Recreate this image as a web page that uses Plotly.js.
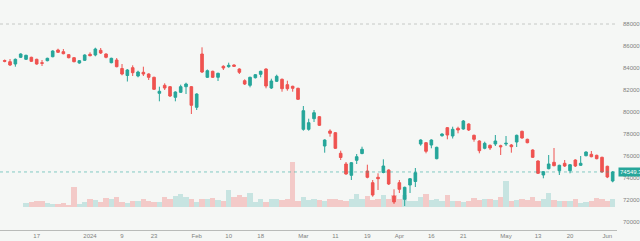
<!DOCTYPE html>
<html>
<head>
<meta charset="utf-8">
<script src="https://cdn.plot.ly/plotly-3.0.1.min.js"></script>
<style>
  html, body { margin: 0; padding: 0; background: #f5f7f5; }
  #chart { width: 640px; height: 241px; }
</style>
</head>
<body>
<div id="chart"></div>
<script>
// Daily session prices (one entry per trading session)
const open = [
  84682, 84573, 84364, 84973, 84791, 84973, 84791, 84482, 84664, 85027,
  85636, 85482, 85209, 84936, 84455, 84700, 85245, 85182, 85609, 85273,
  84482, 84727, 83955, 83318, 84027, 83273, 83609, 83455, 83155, 81700,
  82427, 82300, 81336, 81791, 82300, 82300, 80427, 85273, 83155, 83700,
  83155, 84155, 84118, 84273, 83909, 82845, 82427, 83118, 83427, 83909,
  82182, 82791, 82973, 82482, 82336, 82155, 78427, 78427, 79391, 79573,
  76909, 78273, 78118, 76245, 75273, 74245, 75609, 76227, 74636, 73573,
  74064, 74500, 74727, 72364, 73573, 72064, 73364, 73682, 77091, 77209,
  77000, 75755, 77845, 78573, 77818, 78518, 78455, 78909, 77882, 77364,
  76700, 76973, 77091, 76936, 77091, 77000, 77273, 78245, 77518, 76545,
  75545, 74273, 74845, 75427, 74664, 75336, 74664, 75636, 75155, 76027,
  76155, 76064, 75882, 75064, 73727
];
const high = [
  84773, 84818, 84864, 85336, 85209, 85027, 84845, 84727, 84936, 85609,
  85755, 85727, 85273, 85000, 84727, 85245, 85427, 85845, 85818, 85336,
  84936, 84909, 84364, 83909, 84245, 83755, 84118, 83518, 83209, 82300,
  82609, 82364, 81882, 82482, 82664, 82364, 81700, 85882, 83864, 83755,
  83573, 84245, 84482, 84336, 83973, 82973, 83209, 83455, 83755, 83973,
  83027, 83391, 83045, 82845, 82391, 82209, 80545, 79391, 80182, 79636,
  77518, 78427, 78182, 76482, 75455, 75455, 76182, 76845, 75209, 73818,
  74427, 75700, 74791, 72973, 73818, 73209, 74000, 74909, 77518, 77273,
  77518, 76845, 78064, 78636, 78664, 78664, 79273, 78973, 77945, 77427,
  77300, 77045, 77909, 77027, 77818, 77091, 77945, 78300, 77573, 76609,
  75609, 74636, 76091, 76727, 75209, 75636, 75273, 75700, 76000, 76427,
  76455, 76118, 75936, 75118, 74636
];
const low = [
  84518, 84182, 84118, 84909, 84727, 84545, 84300, 84182, 84609, 84973,
  85364, 85245, 84882, 84518, 84391, 84636, 85064, 85064, 85273, 84882,
  84427, 84064, 83336, 82773, 83273, 83155, 83273, 82909, 82000, 80973,
  82000, 81364, 80973, 81727, 81636, 79818, 80182, 83545, 83091, 83091,
  82818, 83818, 84027, 84091, 83455, 82455, 82245, 83045, 83155, 82155,
  82091, 82727, 81845, 81936, 81845, 81091, 78300, 78300, 79091, 78727,
  76300, 77755, 76636, 75636, 74300, 73818, 75273, 76155, 73973, 72300,
  72909, 74427, 73364, 71636, 72636, 71455, 72636, 73182, 76936, 76245,
  76700, 75700, 77755, 77518, 77591, 78064, 78391, 78273, 77300, 76245,
  76609, 76545, 76909, 76091, 76909, 76300, 76818, 77573, 77155, 75818,
  74364, 73973, 74791, 75064, 74273, 75000, 74427, 75000, 75091, 75973,
  75882, 75700, 74482, 73991, 73609
];
const close = [
  84609, 84273, 84791, 85273, 85155, 84609, 84364, 84427, 84882, 85545,
  85427, 85300, 84936, 84573, 84664, 85182, 85118, 85727, 85364, 84973,
  84882, 84118, 83455, 83818, 83573, 83636, 83455, 83155, 82064, 81882,
  82182, 81455, 81818, 82300, 82545, 80609, 81636, 83636, 83755, 83155,
  83518, 84000, 84245, 84155, 83609, 82545, 83155, 83391, 83700, 82364,
  82818, 83245, 82118, 82118, 82155, 81155, 80118, 79027, 79936, 78791,
  77455, 78064, 76700, 75864, 74364, 75391, 75936, 76609, 74064, 72455,
  73936, 75091, 73455, 71818, 72973, 73155, 73936, 74482, 77455, 76427,
  77455, 76791, 78000, 77909, 78427, 78364, 79182, 78364, 77518, 76482,
  77155, 76727, 77364, 76845, 77155, 76845, 77882, 77636, 77209, 75882,
  74427, 74573, 75273, 75118, 75155, 75091, 75209, 75091, 75336, 76364,
  75936, 75755, 74545, 74091, 74549.34
];
const volume = [
  null, null, null, null, 430, 470, 570, 630, 370, 300,
  330, 370, 230, 2030, 300, 470, 770, 700, 470, 870,
  770, 970, 500, 370, 600, 600, 830, 570, 530, 530,
  1030, 770, 1100, 1300, 970, 800, 500, 800, 800, 930,
  700, 600, 1700, 970, 1200, 1030, 1430, 530, 770, 530,
  770, 770, 700, 770, 4530, 600, 1030, 700, 830, 700,
  630, 770, 800, 700, 630, 770, 1300, 830, 1100, 700,
  770, 1170, 770, 1200, 830, 1170, 570, 570, 970, 1300,
  700, 770, 630, 1230, 570, 570, 500, 630, 870, 700,
  830, 770, 700, 970, 2600, 570, 700, 830, 700, 970,
  630, 770, 1370, 700, 570, 630, 570, 770, 430, 500,
  570, 900, 770, 570, 770
];

// Axis labels along the session axis
const tickSessions = [6, 16, 22, 28, 36, 42, 48, 56, 62, 68, 74, 80, 86, 94, 100, 106, 113];
const tickLabels = ["17", "2024", "9", "23", "Feb", "10", "18", "Mar", "11", "19", "Apr", "16", "21", "May", "13", "20", "Jun"];
const priceTicks = [70000, 72000, 74000, 76000, 78000, 80000, 82000, 84000, 86000, 88000];

const UP = '#26a69a';
const DOWN = '#ef5350';
const session = open.map((_, i) => i);
const lastClose = close[close.length - 1];

const volColors = close.map((c, i) =>
  c >= open[i] ? 'rgba(38,166,154,0.22)' : 'rgba(239,83,80,0.27)');

// Volume sits on the hidden base axis, prices on the overlaid right axis
const volTrace = {
  type: 'bar',
  x: session,
  y: volume,
  yaxis: 'y',
  marker: { color: volColors, line: { width: 0 } },
  hoverinfo: 'skip',
  showlegend: false
};

const candleTrace = {
  type: 'candlestick',
  x: session,
  open: open,
  high: high,
  low: low,
  close: close,
  yaxis: 'y2',
  increasing: { line: { color: UP, width: 1 }, fillcolor: UP },
  decreasing: { line: { color: DOWN, width: 1 }, fillcolor: DOWN },
  showlegend: false
};

const tickFont = { family: 'Liberation Sans, Arial, sans-serif', size: 6, color: '#7f827f' };

const layout = {
  width: 640,
  height: 241,
  margin: { l: 0, r: 23, t: 0, b: 11 },
  paper_bgcolor: '#f5f7f5',
  plot_bgcolor: '#f5f7f5',
  showlegend: false,
  bargap: 0,
  boxgap: 0.3,
  xaxis: {
    range: [-0.88, 114.81],
    tickmode: 'array',
    tickvals: tickSessions,
    ticktext: tickLabels,
    tickfont: tickFont,
    ticks: '',
    showgrid: false,
    zeroline: false,
    showline: true,
    linecolor: '#b9bbb9',
    linewidth: 1,
    rangeslider: { visible: false },
    fixedrange: true
  },
  yaxis: {
    range: [-2300, 20700],
    visible: false,
    fixedrange: true
  },
  yaxis2: {
    overlaying: 'y',
    side: 'right',
    anchor: 'x',
    range: [69273, 90182],
    tickmode: 'array',
    tickvals: priceTicks,
    tickformat: '.2f',
    tickfont: tickFont,
    ticks: '',
    ticklabelstandoff: 5,
    showgrid: false,
    zeroline: false,
    showline: false,
    fixedrange: true
  },
  shapes: [
    {
      type: 'line', xref: 'paper', x0: 0, x1: 1,
      yref: 'y2', y0: priceTicks[priceTicks.length - 1], y1: priceTicks[priceTicks.length - 1],
      line: { color: '#c6c9c6', width: 1, dash: 'dot' }
    },
    {
      type: 'line', xref: 'paper', x0: 0, x1: 1,
      yref: 'y2', y0: lastClose, y1: lastClose,
      line: { color: 'rgba(38,166,154,0.55)', width: 1, dash: 'dot' }
    }
  ],
  annotations: [
    {
      xref: 'paper', x: 1, xanchor: 'left', xshift: 1,
      yref: 'y2', y: lastClose, yanchor: 'middle',
      text: lastClose.toFixed(2),
      showarrow: false,
      bgcolor: UP,
      borderpad: 1,
      font: { family: 'Liberation Sans, Arial, sans-serif', size: 6, color: '#ffffff' }
    }
  ]
};

Plotly.newPlot('chart', [volTrace, candleTrace], layout, { staticPlot: true, displayModeBar: false });
</script>
</body>
</html>
